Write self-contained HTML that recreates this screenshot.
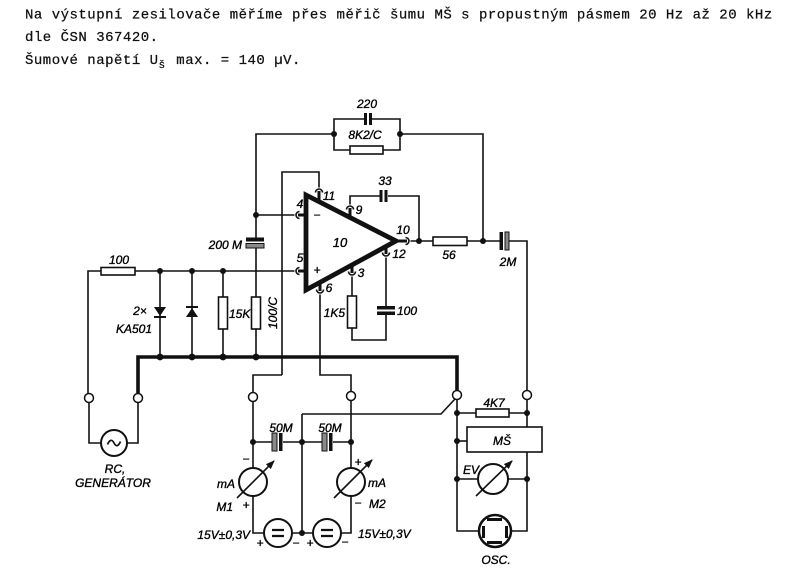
<!DOCTYPE html>
<html><head><meta charset="utf-8">
<style>
html,body{margin:0;padding:0;background:#fff;}
svg{display:block}
.t{font-family:"Liberation Mono",monospace;font-size:14px;letter-spacing:0.5px;fill:#111;stroke:#111;stroke-width:0.25}
.l{font-family:"Liberation Sans",sans-serif;font-style:italic;font-size:12px;fill:#000;stroke:#000;stroke-width:0.35}
</style></head><body>
<svg width="791" height="581" viewBox="0 0 791 581" xmlns="http://www.w3.org/2000/svg">
<defs><marker id="a" markerWidth="9" markerHeight="7" refX="8" refY="3.5" orient="auto" markerUnits="userSpaceOnUse"><path d="M0,0 L9,3.5 L0,7 z" fill="#111"/></marker></defs>

<text class="t" x="25" y="18.5">Na výstupní zesilovače měříme přes měřič šumu MŠ s propustným pásmem 20 Hz až 20 kHz</text>
<text class="t" x="25" y="41">dle ČSN 367420.</text>
<text class="t" x="25" y="64">Šumové napětí U</text>
<text class="t" x="158.5" y="68" style="font-size:11px">š</text>
<text class="t" x="176.3" y="64">max. = 140 µV.</text>

<g fill="none" stroke="#111" stroke-width="1.6">
<!-- feedback network -->
<path d="M256,215 V134 H334"/>
<path d="M334,134 V119 H364 M372,119 H400 V134"/>
<path d="M334,134 V150 H350 M383,150 H400 V134"/>
<rect x="350" y="146" width="33" height="8" fill="#fff"/>
<path d="M400,134 H483 V241"/>

<!-- inputs -->
<path d="M256,215 H294.5"/>
<path d="M88,393.5 V271 H101 M135,271 H294.5"/>
<rect x="101" y="267.5" width="34" height="7.5" fill="#fff"/>
<path d="M160,271 V357 M192,271 V357"/>
<path d="M154,317 H166 M186,307 H198" stroke-width="2"/>
<path d="M223,271 V297 M223,329 V357"/>
<rect x="218.5" y="297" width="9" height="32" fill="#fff"/>
<path d="M256,215 V238 M256,248 V297 M256,329 V357"/>
<rect x="251.5" y="297" width="9" height="32" fill="#fff"/>

<!-- pin 11 line -->
<path d="M282,375 V172 H319 V187.5 M282,375 H253 V392.5"/>
<!-- pin 9 / 33 -->
<path d="M350,204.5 V196 H380 M388,196 H419 V241"/>
<!-- output -->
<path d="M410.5,241 H433 M467,241 H500 M509,241 H527 V390.5"/>
<rect x="433" y="237" width="34" height="8.5" fill="#fff"/>
<!-- pin 12 / 3 -->
<path d="M386,257.5 V307 M386,315 V340 H352 V328"/>
<path d="M352,276.5 V296"/>
<rect x="347.5" y="296" width="9" height="32" fill="#fff"/>
<!-- pin 6 -->
<path d="M320,294.5 V375 H351 V391.5"/>

<!-- ground bus -->
<path d="M138,393.5 V357 H457 V390.5" stroke-width="3.6"/>

<!-- pins arcs -->
<path d="M299.5,211.5 A3.5,3.5 0 1 0 299.5,218.5"/>
<path d="M299.5,267.5 A3.5,3.5 0 1 0 299.5,274.5"/>
<path d="M315.5,192.5 A3.5,3.5 0 1 1 322.5,192.5"/>
<path d="M346.5,209.5 A3.5,3.5 0 1 1 353.5,209.5"/>
<path d="M316.5,289.5 A3.5,3.5 0 1 0 323.5,289.5"/>
<path d="M348.5,271.5 A3.5,3.5 0 1 0 355.5,271.5"/>
<path d="M382.5,252.5 A3.5,3.5 0 1 0 389.5,252.5"/>
<path d="M405.5,237.5 A3.5,3.5 0 1 1 405.5,244.5"/>
<g stroke-width="3">
<path d="M298,215 H306 M298,271 H306 M319,191 V202 M350,208 V218 M320,283 V291 M352,265 V273 M386,246 V254 M396,241 H407"/>
</g>

<!-- op amp -->
<polygon points="306,195 306,290 396,241" stroke-width="4.8" stroke-linejoin="miter"/>

<!-- generator -->
<path d="M89,402.5 V443 H101 M127,443 H138 V402.5"/>
<circle cx="114" cy="443" r="13" stroke-width="2"/>
<path d="M107.5,444.5 Q110.8,437 114,443 T120.5,441.5" stroke-width="1.7"/>

<!-- bottom middle -->
<path d="M253,401.5 V468 M253,496 V533 H264 M292,533 H313 M341,533 H351 V496 M351,468 V400.5"/>
<path d="M253,442 H272 M283,442 H322 M333,442 H351"/>
<path d="M302,414 V533 M302,414 H441 L455,399"/>
<circle cx="253" cy="482" r="14" stroke-width="2"/>
<circle cx="351" cy="482" r="14" stroke-width="2"/>
<circle cx="278" cy="533" r="14" stroke-width="2"/>
<circle cx="327" cy="533" r="14" stroke-width="2"/>
<path d="M272,530 H284 M272,536 H284 M321,530 H333 M321,536 H333" stroke-width="2.2"/>
<path d="M237,498 L274,461" marker-end="url(#a)"/>
<path d="M334,498 L372,460" marker-end="url(#a)"/>

<!-- right measuring part -->
<path d="M457,399.5 V531 H479 M511,531 H527 V452 M527,427 V399.5"/>
<path d="M457,413 H476 M509,413 H527"/>
<rect x="476" y="409" width="33" height="8" fill="#fff"/>
<rect x="467" y="427" width="75" height="25" fill="#fff"/>
<path d="M457,441 H467"/>
<path d="M457,479 H478 M508,479 H527"/>
<circle cx="493" cy="479" r="15" stroke-width="2"/>
<path d="M476,496 L512,461" marker-end="url(#a)"/>
<circle cx="495" cy="531" r="16" stroke-width="2.5"/>

<!-- terminals -->
<g fill="#fff" stroke-width="1.5">
<circle cx="89" cy="398" r="4.5"/>
<circle cx="138" cy="398" r="4.5"/>
<circle cx="253" cy="397" r="4.5"/>
<circle cx="351" cy="396" r="4.5"/>
<circle cx="457" cy="395" r="4.5"/>
<circle cx="527" cy="395" r="4.5"/>
</g>
</g>

<!-- filled components -->
<g fill="#111" stroke="none">
<rect x="364" y="113" width="3" height="12"/>
<rect x="369" y="113" width="3" height="12"/>
<rect x="379.5" y="190" width="3" height="12"/>
<rect x="384.5" y="190" width="3" height="12"/>
<rect x="246" y="237.5" width="18" height="4"/>
<rect x="499.5" y="232" width="3.5" height="18"/>
<rect x="377" y="306" width="18" height="3.5"/>
<rect x="377" y="311.5" width="18" height="3.5"/>
<rect x="279" y="433" width="3.5" height="18"/>
<rect x="329" y="433" width="3.5" height="18"/>
<polygon points="154,307 166,307 160,316"/>
<polygon points="186,317 198,317 192,308"/>
<rect x="487" y="518" width="15" height="3"/>
<rect x="487" y="541" width="15" height="3"/>
<rect x="482" y="526" width="3" height="12"/>
<rect x="505" y="526" width="3" height="12"/>
<!-- nodes -->
<circle cx="334" cy="134" r="3"/>
<circle cx="400" cy="134" r="3"/>
<circle cx="256" cy="215" r="3"/>
<circle cx="419" cy="241" r="3"/>
<circle cx="483" cy="241" r="3"/>
<circle cx="160" cy="271" r="3"/>
<circle cx="192" cy="271" r="3"/>
<circle cx="223" cy="271" r="3"/>
<circle cx="160" cy="357" r="3.4"/>
<circle cx="192" cy="357" r="3.4"/>
<circle cx="223" cy="357" r="3.4"/>
<circle cx="256" cy="357" r="3.4"/>
<circle cx="253" cy="442" r="3"/>
<circle cx="302" cy="442" r="3"/>
<circle cx="351" cy="442" r="3"/>
<circle cx="302" cy="533" r="3"/>
<circle cx="457" cy="413" r="3"/>
<circle cx="527" cy="413" r="3"/>
<circle cx="457" cy="441" r="3"/>
<circle cx="457" cy="479" r="3"/>
<circle cx="527" cy="479" r="3"/>
</g>
<!-- hatched plates -->
<g fill="#8a8a8a" stroke="#111" stroke-width="1">
<rect x="246" y="243.5" width="18" height="4.5"/>
<rect x="505" y="232" width="4" height="18"/>
<rect x="272" y="433" width="5" height="18"/>
<rect x="322" y="433" width="5" height="18"/>
</g>

<!-- labels -->
<g class="l">
<text x="367" y="108" text-anchor="middle">220</text>
<text x="365" y="139" text-anchor="middle">8K2/C</text>
<text x="385" y="185" text-anchor="middle">33</text>
<text x="242" y="249" text-anchor="end">200 M</text>
<text x="119" y="264" text-anchor="middle">100</text>
<text x="140" y="315" text-anchor="middle">2×</text>
<text x="134" y="333" text-anchor="middle">KA501</text>
<text x="229" y="318">15K</text>
<text transform="translate(277,313) rotate(-90)" text-anchor="middle">100/C</text>
<text x="345" y="317" text-anchor="end">1K5</text>
<text x="397" y="315">100</text>
<text x="449" y="259" text-anchor="middle">56</text>
<text x="508" y="266" text-anchor="middle">2M</text>
<text x="494" y="407" text-anchor="middle">4K7</text>
<text x="502" y="445" text-anchor="middle">MŠ</text>
<text x="471" y="474" text-anchor="middle">EV</text>
<text x="496" y="564" text-anchor="middle">OSC.</text>
<text x="115" y="473" text-anchor="middle">RC,</text>
<text x="113" y="487" text-anchor="middle">GENERÁTOR</text>
<text x="281" y="432" text-anchor="middle">50M</text>
<text x="330" y="432" text-anchor="middle">50M</text>
<text x="246" y="463" text-anchor="middle">−</text>
<text x="235" y="488" text-anchor="end">mA</text>
<text x="233" y="511" text-anchor="end">M1</text>
<text x="246" y="509" text-anchor="middle">+</text>
<text x="250" y="539" text-anchor="end">15V±0,3V</text>
<text x="260" y="547" text-anchor="middle">+</text>
<text x="296" y="547" text-anchor="middle">−</text>
<text x="310" y="547" text-anchor="middle">+</text>
<text x="345" y="546" text-anchor="middle">−</text>
<text x="358" y="466" text-anchor="middle">+</text>
<text x="368" y="487">mA</text>
<text x="358" y="507" text-anchor="middle">−</text>
<text x="369" y="508">M2</text>
<text x="358" y="538">15V±0,3V</text>
<text x="300" y="208" text-anchor="middle">4</text>
<text x="329" y="200" text-anchor="middle">11</text>
<text x="359" y="214" text-anchor="middle">9</text>
<text x="403" y="234" text-anchor="middle">10</text>
<text x="399" y="258" text-anchor="middle">12</text>
<text x="361" y="277" text-anchor="middle">3</text>
<text x="329" y="292" text-anchor="middle">6</text>
<text x="300" y="262" text-anchor="middle">5</text>
<text x="317" y="219" text-anchor="middle">−</text>
<text x="317" y="274" text-anchor="middle">+</text>
<text x="340" y="247" text-anchor="middle" style="font-size:13px">10</text>
</g>
</svg>
</body></html>
